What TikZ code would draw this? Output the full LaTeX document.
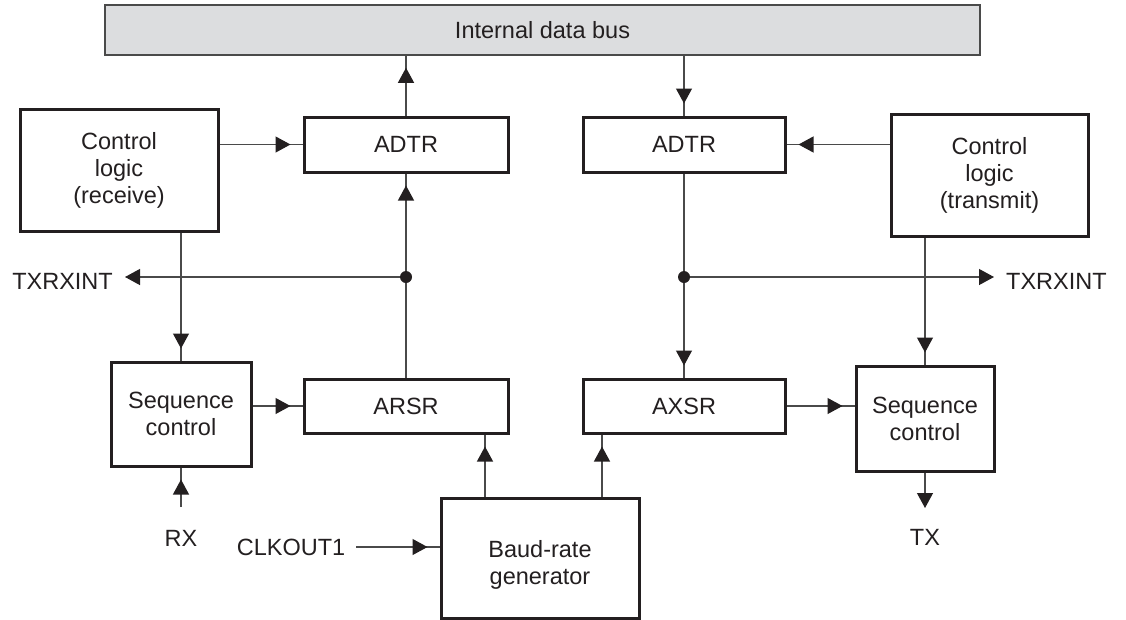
\documentclass[tikz,border=0pt]{standalone}
\usepackage{fontspec}
\setmainfont{Liberation Sans}
\usetikzlibrary{arrows.meta,decorations.markings}
\definecolor{ink}{HTML}{231F20}
\definecolor{wirec}{HTML}{4A4A4A}
\definecolor{busfill}{HTML}{DCDDDF}
\begin{document}
\begin{tikzpicture}[x=1pt,y=-1pt,
  txt/.style={font=\fontsize{23.5}{27}\selectfont,text=ink},
  box/.style={txt,draw=ink,line width=3pt,fill=white,align=center,inner sep=0pt,rectangle},
  busbox/.style={txt,draw=wirec,line width=1.5pt,fill=busfill,inner sep=0pt,rectangle},
  lbl/.style={txt,inner sep=0pt},
  wire/.style={draw=wirec,line width=1.2pt},
  tip/.style={wire,postaction={decorate},decoration={markings,mark=at position -12pt with {\arrow[ink]{Triangle[length=15pt,width=16pt]}}}},
  endtip/.style={wire,-{Triangle[length=15pt,width=16pt,color=ink]}},
  dot/.style={fill=ink}
]
\useasboundingbox (0,0) rectangle (1126,619);

% nodes
\node[busbox,minimum width=875,minimum height=50] (bus) at (542.5,30) {Internal data bus};
\node[box,minimum width=204,minimum height=55] (adtrL) at (406,144.5) {ADTR};
\node[box,minimum width=202,minimum height=55] (adtrR) at (684,144.5) {ADTR};
\node[box,minimum width=198,minimum height=122] (ctrlL) at (119,170) {Control\\logic\\(receive)};
\node[box,minimum width=197,minimum height=122] (ctrlR) at (989.5,175) {Control\\logic\\(transmit)};
\node[box,minimum width=140,minimum height=104] (seqL) at (181,414) {Sequence\\control};
\node[box,minimum width=204,minimum height=54] (arsr) at (406,406) {ARSR};
\node[box,minimum width=202,minimum height=54] (axsr) at (684,406) {AXSR};
\node[box,minimum width=138,minimum height=105] (seqR) at (925,418.5) {Sequence\\control};
\node[box,minimum width=198,minimum height=120,
      label={[lbl,align=center,yshift=-7pt]center:Baud-rate\\generator}] (baud) at (540,558) {};

\node[lbl,anchor=east] (txL) at (113,281) {TXRXINT};
\node[lbl,anchor=west] (txR) at (1006,281) {TXRXINT};
\node[lbl] (rx) at (181,538) {RX};
\node[lbl] (tx) at (925,537) {TX};
\node[lbl] (clk) at (291,547) {CLKOUT1};

\coordinate (jL) at (406,277);
\coordinate (jR) at (684,277);
\coordinate (rxin) at (181,507);
\coordinate (txout) at (925,508);

% left side
\draw[tip] (adtrL.north) -- (bus.south -| adtrL.north);
\draw[tip] (ctrlL.east |- adtrL.west) -- (adtrL.west);
\draw[tip] (arsr.north) -- (adtrL.south);
\draw[endtip] (jL) -- ([xshift=12pt]txL.east |- jL);
\draw[tip] (seqL.north |- ctrlL.south) -- (seqL.north);
\draw[tip] (seqL.east |- arsr.west) -- (arsr.west);
\draw[tip] (rxin) -- (seqL.south);
\draw[tip] ([xshift=11pt]clk.east) -- (clk.east -| baud.west);
\draw[tip] ([xshift=-55pt]baud.north) -- ([xshift=-55pt]baud.north |- arsr.south);

% right side
\draw[tip] (bus.south -| adtrR.north) -- (adtrR.north);
\draw[tip] (ctrlR.west |- adtrR.east) -- (adtrR.east);
\draw[tip] (adtrR.south) -- (axsr.north);
\draw[endtip] (jR) -- ([xshift=-12pt]txR.west |- jR);
\draw[tip] (axsr.east) -- (axsr.east -| seqR.west);
\draw[tip] (seqR.north |- ctrlR.south) -- (seqR.north);
\draw[endtip] (seqR.south) -- (txout);
\draw[tip] ([xshift=62pt]baud.north) -- ([xshift=62pt]baud.north |- axsr.south);

\fill[dot] (jL) circle (6);
\fill[dot] (jR) circle (6);
\end{tikzpicture}
\end{document}
